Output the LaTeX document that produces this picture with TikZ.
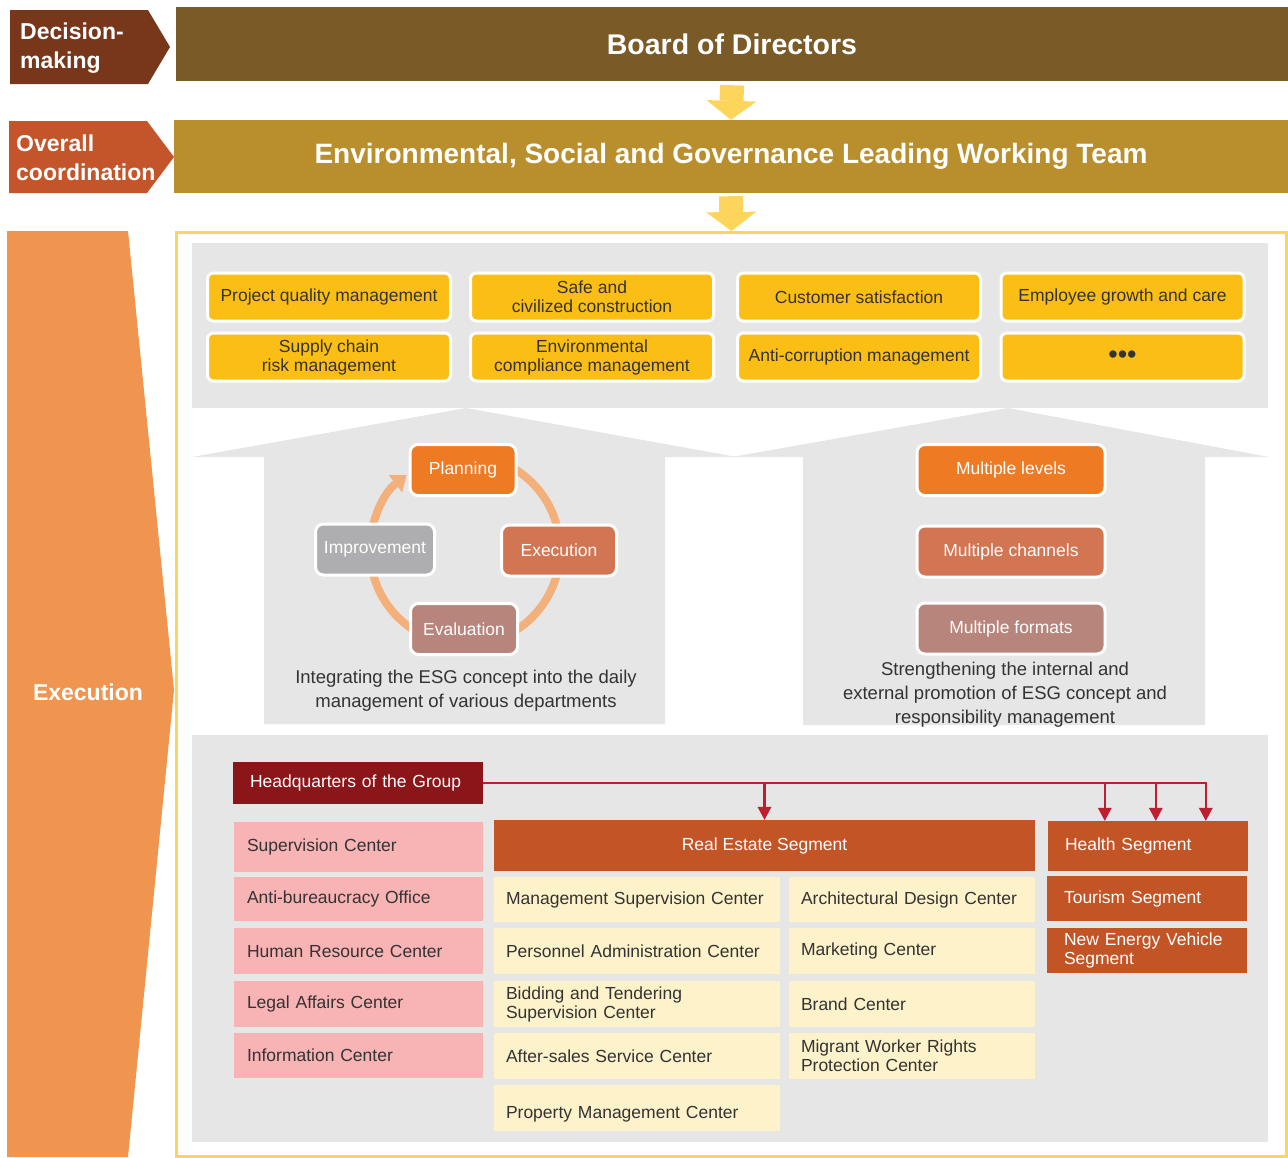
\documentclass[tikz,border=0pt]{standalone}
\usepackage{fontspec}
\setmainfont{Liberation Sans}
\usetikzlibrary{arrows.meta}

\definecolor{decisioncol}{HTML}{78361A}
\definecolor{coordcol}{HTML}{C4552A}
\definecolor{execcol}{HTML}{F0954F}
\definecolor{boardcol}{HTML}{7A5A27}
\definecolor{esgcol}{HTML}{B98E2D}
\definecolor{arrowyel}{HTML}{FDD55A}
\definecolor{panelgray}{HTML}{E6E6E6}
\definecolor{topicyel}{HTML}{FBBE15}
\definecolor{planorange}{HTML}{EE7A23}
\definecolor{execbrown}{HTML}{D27553}
\definecolor{evalmauve}{HTML}{B8857C}
\definecolor{impgray}{HTML}{AEAEB0}
\definecolor{arccol}{HTML}{F3B07B}
\definecolor{hqred}{HTML}{8B161A}
\definecolor{linered}{HTML}{BE1E2D}
\definecolor{pinkbox}{HTML}{F8B3B5}
\definecolor{segcol}{HTML}{C35426}
\definecolor{cream}{HTML}{FDF2CA}
\definecolor{txt}{HTML}{333333}

\begin{document}
\begin{tikzpicture}[x=1pt,y=-1pt,
	sidelab/.style={text=white,font=\fontsize{23}{29}\selectfont\bfseries,align=left,inner sep=0pt},
	band/.style={text=white,font=\fontsize{28.5}{34}\selectfont\bfseries,minimum width=1112pt,minimum height=74pt,inner sep=0pt},
	frame/.style={draw=arrowyel,line width=3pt,minimum width=1110pt,minimum height=924pt,inner sep=0pt},
	bigarrow/.style={draw=arrowyel,line width=24pt,-{Triangle[length=19pt,width=50pt,line width=0pt]}},
	topic/.style={fill=topicyel,draw=white,line width=3pt,rounded corners=6pt,minimum width=243pt,minimum height=48pt,inner sep=0pt,align=center,text=txt,font=\fontsize{17.5}{19}\selectfont},
	stage/.style={draw=white,line width=3pt,rounded corners=8pt,text=white,font=\fontsize{17.5}{19}\selectfont,inner sep=0pt,minimum height=51pt},
	note/.style={text=txt,font=\fontsize{18.5}{24}\selectfont,align=center,inner sep=0pt},
	cyclearrow/.style={draw=arccol,line width=8pt,-{Triangle[length=14pt,width=22pt,line width=0pt]}},
	hqbox/.style={fill=hqred,text=white,font=\fontsize{17.5}{19}\selectfont,text width=216pt,align=left,inner xsep=17pt,inner ysep=0pt,minimum height=42pt},
	dept/.style={fill=pinkbox,text=txt,font=\fontsize{17.5}{19}\selectfont,text width=223pt,align=left,inner xsep=13pt,inner ysep=0pt},
	ctr/.style={fill=cream,text=txt,font=\fontsize{17.5}{19}\selectfont,text width=#1,align=left,inner xsep=12pt,inner ysep=0pt},
	seg/.style={fill=segcol,text=white,font=\fontsize{17.5}{19}\selectfont,inner ysep=0pt},
	segleft/.style={seg,text width=166pt,align=left,inner xsep=17pt},
	hqarrow/.style={draw=linered,line width=2.5pt,-{Triangle[length=13pt,width=14pt,line width=0pt]}}
]
	\useasboundingbox (0,0) rectangle (1288,1157);

	\fill[decisioncol] (10,10) -- (148,10) -- (170,47) -- (148,84) -- (10,84) -- cycle;
	\fill[coordcol] (9,121) -- (147,121) -- (174,157) -- (147,193) -- (9,193) -- cycle;
	\fill[execcol] (7,231) -- (128,231) -- (174,690) -- (128,1157) -- (7,1157) -- cycle;
	\node[sidelab,anchor=west] (decision) at (20,48.5) {Decision-\\making};
	\node[sidelab,anchor=west] (overall) at (16,157.5) {Overall\\coordination};
	\node[sidelab] (execution) at (88,692) {Execution};

	\node[band,fill=boardcol] (board) at (732,44) {Board of Directors};
	\node[band,fill=esgcol,minimum width=1114pt,minimum height=73pt,font=\fontsize{28}{34}\selectfont\bfseries] (esg) at (731,156.5) {Environmental, Social and Governance Leading Working Team};
	\node[frame] (execframe) at (731.5,694.5) {};
	\draw[bigarrow] ([yshift=-4pt]board.south) -- (esg.north);
	\draw[bigarrow] ([yshift=-3pt]esg.south) -- (execframe.north);

	\fill[panelgray] (192,243) rectangle (1268,408);
	\node[topic] (quality) at (329,297) {Project quality management};
	\node[topic] (safety) at (592,297) {Safe and\\civilized construction};
	\node[topic] (customer) at (859,297) {Customer satisfaction};
	\node[topic] (employee) at (1122.5,297) {Employee growth and care};
	\node[topic] (supply) at (329,357) {Supply chain\\risk management};
	\node[topic] (environment) at (592,357) {Environmental\\compliance management};
	\node[topic] (anticorruption) at (859,357) {Anti-corruption management};
	\node[topic,font=\fontsize{27}{27}\selectfont] (more) at (1122.5,357) {\textbullet\textbullet\textbullet};

	\fill[panelgray] (264,724) -- (264,457) -- (192,457) -- (466,408) -- (737,457) -- (665,457) -- (665,724) -- cycle;
	\fill[panelgray] (803,725) -- (803,457) -- (732,457) -- (1008,408) -- (1269,457) -- (1205,457) -- (1205,725) -- cycle;

	\coordinate (cyc) at (465,550);
	\draw[cyclearrow] ([shift={(-60:95)}]cyc) arc[start angle=-60,end angle=232,radius=95];
	\node[stage,fill=planorange,minimum width=106pt] (planning) at (463,470) {Planning};
	\node[stage,fill=execbrown,minimum width=115pt] (executing) at (559,550.5) {Execution};
	\node[stage,fill=evalmauve,minimum width=107pt] (evaluation) at (464,629) {Evaluation};
	\node[stage,fill=impgray,minimum width=119pt] (improvement) at (375,549.5) {Improvement};
	\node[note] (integrate) at (466,691) {Integrating the ESG concept into the daily\\management of various departments};

	\node[stage,fill=planorange,minimum width=188pt] (levels) at (1011,470) {Multiple levels};
	\node[stage,fill=execbrown,minimum width=188pt] (channels) at (1011,551.5) {Multiple channels};
	\node[stage,fill=evalmauve,minimum width=188pt] (formats) at (1011,628.5) {Multiple formats};
	\node[note] (promote) at (1005,695) {Strengthening the internal and\\external promotion of ESG concept and\\responsibility management};

	\fill[panelgray] (192,735) rectangle (1268,1142);
	\node[hqbox] (hq) at (358,783) {Headquarters of the Group};

	\node[dept,minimum height=50pt] (supervision) at (358.5,847) {Supervision Center};
	\node[dept,minimum height=44pt] (antibureau) at (358.5,899) {Anti-bureaucracy Office};
	\node[dept,minimum height=46pt] (hr) at (358.5,951) {Human Resource Center};
	\node[dept,minimum height=46pt] (legal) at (358.5,1004) {Legal Affairs Center};
	\node[dept,minimum height=45pt] (info) at (358.5,1055.5) {Information Center};

	\node[seg,minimum width=541pt,minimum height=51pt] (realestate) at (764.5,845.5) {Real Estate Segment};
	\node[ctr=262pt,minimum height=45pt] (mgmt) at (637,899.5) {Management Supervision Center};
	\node[ctr=262pt,minimum height=46pt] (personnel) at (637,951) {Personnel Administration Center};
	\node[ctr=262pt,minimum height=46pt] (bidding) at (637,1004) {Bidding and Tendering\\Supervision Center};
	\node[ctr=262pt,minimum height=46pt] (aftersales) at (637,1056) {After-sales Service Center};
	\node[ctr=262pt,minimum height=46pt,text height=24pt,text depth=4pt] (property) at (637,1108) {Property Management Center};
	\node[ctr=222pt,minimum height=45pt] (design) at (912,899.5) {Architectural Design Center};
	\node[ctr=222pt,minimum height=46pt] (marketing) at (912,951) {Marketing Center};
	\node[ctr=222pt,minimum height=46pt] (brand) at (912,1004) {Brand Center};
	\node[ctr=222pt,minimum height=46pt] (migrant) at (912,1056) {Migrant Worker Rights\\Protection Center};

	\node[segleft,minimum height=50pt] (health) at (1148,846) {Health Segment};
	\node[segleft,minimum height=45pt] (tourism) at (1147,898.5) {Tourism Segment};
	\node[segleft,minimum height=45pt] (nev) at (1147,950.5) {New Energy Vehicle\\Segment};

	\draw[hqarrow] (hq.east) -| (realestate.north);
	\draw[hqarrow] (hq.east) -| ([xshift=57pt]health.north west);
	\draw[hqarrow] (hq.east) -| ([xshift=108pt]health.north west);
	\draw[hqarrow] (hq.east) -| ([xshift=158pt]health.north west);
\end{tikzpicture}
\end{document}
